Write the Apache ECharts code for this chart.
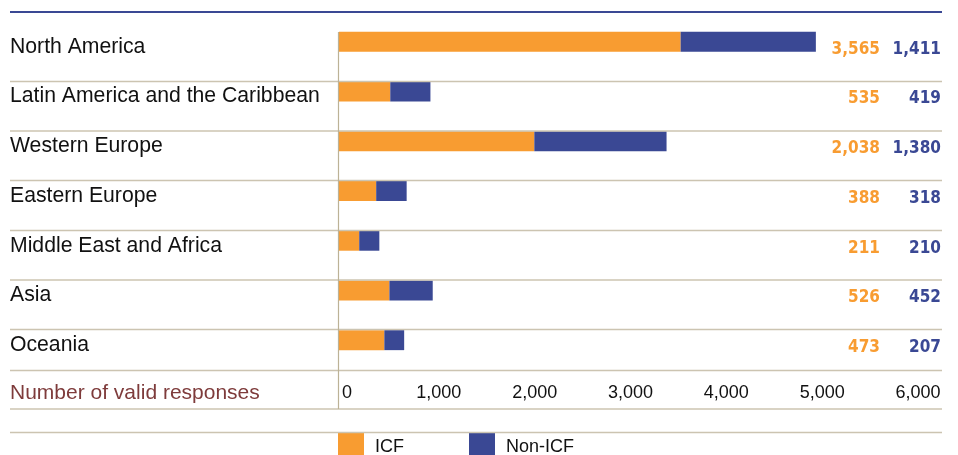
<!DOCTYPE html>
<html>
<head>
<meta charset="utf-8">
<script src="https://cdn.jsdelivr.net/npm/echarts@6/dist/echarts.min.js"></script>
<style>
html,body{margin:0;padding:0;background:#fff;}
#main{width:958px;height:455px;}
</style>
</head>
<body>
<div id="main"></div>
<script>
const regions = ['North America','Latin America and the Caribbean','Western Europe','Eastern Europe','Middle East and Africa','Asia','Oceania'];
const icf = [3565, 535, 2038, 388, 211, 526, 473];
const nonIcf = [1411, 419, 1380, 318, 210, 452, 207];
const xTicks = [0, 1000, 2000, 3000, 4000, 5000, 6000];
const axisTitle = 'Number of valid responses';
const seriesNames = ['ICF', 'Non-ICF'];

const ORANGE = '#F89C31';
const BLUE = '#3A4894';
const SEP = '#CCC4B1';
const VLINE = '#BCB296';
const FONT = '"Liberation Sans", Arial, Helvetica, sans-serif';
const NUMFONT = '"Liberation Sans Narrow", "DejaVu Sans Condensed", "Liberation Sans", sans-serif';

const fmt = v => v.toLocaleString('en-US');

const chart = echarts.init(document.getElementById('main'), null, {renderer: 'canvas'});

const sepYs = [81.5, 131, 180.5, 230.5, 280, 329.5, 370.5, 409, 432.5];
const graphics = [
  {type:'line', shape:{x1:10, y1:12, x2:942, y2:12}, style:{stroke:BLUE, lineWidth:2}, z:10},
  {type:'line', shape:{x1:338.5, y1:32, x2:338.5, y2:409}, style:{stroke:VLINE, lineWidth:1.2}, z:10}
];
sepYs.forEach(y => graphics.push({type:'line', shape:{x1:10, y1:y, x2:942, y2:y}, style:{stroke:SEP, lineWidth:1.5}, z:9}));

chart.setOption({
  animation: false,
  backgroundColor: '#fff',
  title: {
    text: axisTitle, left: 10, top: 383, padding: 0,
    textStyle: {color:'#7E3B3B', fontSize: 21, fontWeight: 'normal', fontFamily: FONT}
  },
  legend: {
    data: seriesNames, left: 338, top: 433, padding: 0, itemWidth: 26, itemHeight: 28, itemGap: 65,
    icon: 'rect', textStyle: {color:'#111', fontSize: 18, fontFamily: FONT, padding:[0,0,0,6]}
  },
  grid: {left: 339, right: 44, top: 17, bottom: 90, containLabel: false},
  xAxis: {
    type: 'value', min: 0, max: 6000, interval: 1000,
    axisLine: {show:false}, axisTick: {show:false}, splitLine: {show:false},
    axisLabel: {
      color:'#111', fontSize: 18, fontFamily: FONT, margin: 19,
      formatter: v => xTicks.includes(v) ? (v === 0 ? '{z|' + fmt(v) + '}' : '{n|' + fmt(v) + '}') : '',
      rich: {
        z: {color:'#111', fontSize: 18, fontFamily: FONT, padding:[0,0,0,16]},
        n: {color:'#111', fontSize: 18, fontFamily: FONT, padding:[0,0,0,8]}
      }
    }
  },
  yAxis: [
    {
      type: 'category', data: regions, inverse: true,
      axisLine: {show:false}, axisTick: {show:false}, splitLine: {show:false},
      axisLabel: {
        align: 'left', margin: 329,
        formatter: v => '{s| }\n{t|' + v + '}',
        rich: {
          s: {fontSize: 1, lineHeight: 10},
          t: {color:'#111', fontSize: 21.2, fontFamily: FONT, lineHeight: 24}
        }
      }
    },
    {
      type: 'category', data: regions, inverse: true, position: 'right',
      axisLine: {show:false}, axisTick: {show:false}, splitLine: {show:false},
      axisLabel: {
        align: 'right', margin: 27,
        formatter: (v, i) => '{s| }\n{a|' + fmt(icf[i]) + '}{b|' + fmt(nonIcf[i]) + '}',
        rich: {
          s: {fontSize: 1, lineHeight: 15},
          a: {color: ORANGE, fontSize: 17, fontWeight: 'bold', fontFamily: NUMFONT, align: 'right', lineHeight: 22},
          b: {color: BLUE, fontSize: 17, fontWeight: 'bold', fontFamily: NUMFONT, width: 61, align: 'right', lineHeight: 22}
        }
      }
    }
  ],
  series: [
    {name: seriesNames[0], type: 'bar', stack: 'total', data: icf, barWidth: 20, itemStyle: {color: ORANGE}},
    {name: seriesNames[1], type: 'bar', stack: 'total', data: nonIcf, barWidth: 20, itemStyle: {color: BLUE}}
  ],
  graphic: graphics
});
</script>
</body>
</html>
